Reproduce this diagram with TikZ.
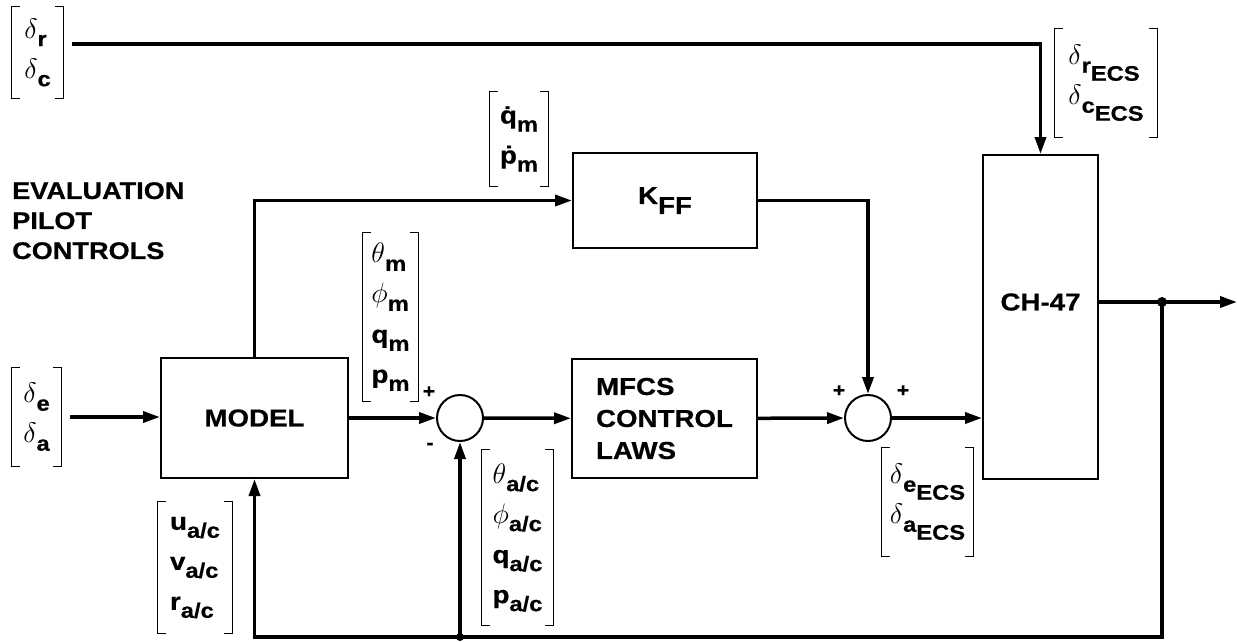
\documentclass[tikz,border=0pt]{standalone}
\usepackage{fix-cm}
\usepackage{amsmath}
\usepackage{graphicx}
\usepackage{fontspec}
\setmainfont{Liberation Sans}[FakeStretch=1.13,BoldFeatures={FakeBold=0.6}]
\usetikzlibrary{arrows.meta,positioning}
\newcommand{\lo}[1]{\raisebox{-8pt}{\fontsize{21}{21}\selectfont #1}}
\newcommand{\gk}[1]{\scalebox{1.15}{$#1$}}

\begin{document}
\begin{tikzpicture}[x=1pt,y=-1pt,
    blk/.style={draw,line width=2pt,align=left,font=\fontsize{24.5}{32}\selectfont\bfseries},
    con/.style={line width=3.5pt},
    arr/.style={con,-{Triangle[length=17pt,width=11pt]}},
    sumnode/.style={draw,circle,line width=2pt,minimum size=46pt,inner sep=0pt},
    vecb/.style={align=left,inner sep=0pt,font=\fontsize{24.5}{40}\selectfont\bfseries},
    sgn/.style={inner sep=0pt,font=\fontsize{19}{19}\selectfont\bfseries}]
  \useasboundingbox (0,0) rectangle (1237,641);
  % blocks
  \node[blk,minimum width=187pt,minimum height=120pt] (model) at (254.5,418) {MODEL};
  \node[blk,minimum width=184pt,minimum height=95pt] (kff) at (665,200.5) {K\raisebox{-10pt}{FF}};
  \node[blk,minimum width=185pt,minimum height=119pt] (mfcs) at (664.5,418.5) {MFCS\\CONTROL\\LAWS};
  \node[blk,minimum width=115pt,minimum height=324pt] (ch) at (1040.5,317) {\raisebox{15pt}[\height][\depth]{CH-47}};
  \node[sumnode] (s1) at (460,418) {};
  \node[sumnode] (s2) at (868,418) {};
  % signal vectors
  \node[vecb,minimum width=51pt,minimum height=91pt] (vrc) at (37.5,52.5) {\gk\delta\lo{r}\\\gk\delta\lo{c}};
  \node[vecb,minimum width=49pt,minimum height=98pt] (vea) at (36.5,417) {\gk\delta\lo{e}\\\gk\delta\lo{a}};
  \node[vecb,minimum width=74pt,minimum height=131pt] (vuvr) at (195,567.5) {u\lo{a/c}\\v\lo{a/c}\\r\lo{a/c}};
  \node[vecb,minimum width=55pt,minimum height=168pt] (vm) at (390.5,317) {\gk\theta\lo{m}\\\gk\phi\lo{m}\\q\lo{m}\\p\lo{m}};
  \node[vecb,minimum width=58pt,minimum height=94pt] (vqp) at (519,139) {\.{q}\lo{m}\\\.{p}\lo{m}};
  \node[vecb,minimum width=71pt,minimum height=175pt] (vac) at (517.5,537.5) {\gk\theta\lo{a/c}\\\gk\phi\lo{a/c}\\q\lo{a/c}\\p\lo{a/c}};
  \node[vecb,minimum width=91pt,minimum height=108pt] (veecs) at (927.5,502) {\gk\delta\lo{e\lo{ECS}}\\\gk\delta\lo{a\lo{ECS}}};
  \node[vecb,minimum width=102pt,minimum height=108pt] (vrecs) at (1106,83) {\gk\delta\lo{r\lo{ECS}}\\\gk\delta\lo{c\lo{ECS}}};
  \foreach \n in {vrc,vea,vuvr,vm,vqp,vac,veecs,vrecs}
    \draw[line width=1.3pt] ([xshift=8pt]\n.north west) -| (\n.south west) -- ++(8pt,0)
      ([xshift=-8pt]\n.north east) -| (\n.south east) -- ++(-8pt,0);
  \node[anchor=north west,inner sep=0pt,align=left,font=\fontsize{24}{30}\selectfont\bfseries] (evl) at (12,182) {EVALUATION\\PILOT\\CONTROLS};
  % signs
  \node[sgn] (p1) at (429,392) {+};
  \node[sgn] (m1) at (430,446) {-};
  \node[sgn] (p2) at (839,391) {+};
  \node[sgn] (p3) at (903,391) {+};
  % connections
  \coordinate (tap) at (1162,302);
  \coordinate (out) at (1237,302);
  \coordinate (fb) at (1162,637);
  \coordinate (jn) at (s1 |- fb);
  \draw[arr,shorten <=9pt] ([yshift=8.5pt]vrc.east) -| (ch.north);
  \draw[arr,shorten <=9pt] (vea.east) -- (vea.east -| model.west);
  \draw[arr] (model.north) |- (kff.west);
  \draw[arr] (kff.east) -| (s2.north);
  \draw[arr] (model) -- (s1);
  \draw[arr] (s1) -- (mfcs);
  \draw[arr] (mfcs) -- (s2);
  \draw[arr] (s2.east) -- (s2.east -| ch.west);
  \draw[arr] ([yshift=15pt]ch.east) -- (out);
  \draw[arr] (tap) -- (fb) -| (model.south);
  \draw[arr] (jn) -- (s1.south);
  \fill (tap) circle (5pt);
  \fill (jn) circle (4pt);
\end{tikzpicture}
\end{document}
